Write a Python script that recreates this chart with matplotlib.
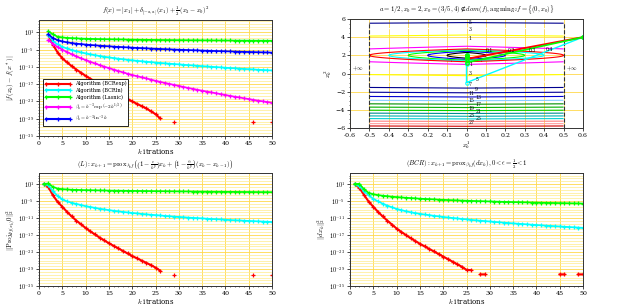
import numpy as np
import matplotlib
matplotlib.use("Agg")
import matplotlib.pyplot as plt
from matplotlib.ticker import FixedLocator, FuncFormatter, MultipleLocator, NullFormatter

plt.rcParams['font.family'] = ['DejaVu Serif']
plt.rcParams['mathtext.fontset'] = 'cm'
plt.rcParams['axes.linewidth'] = 0.7

nan = np.nan

# ---------------- data (log10 of plotted values) ----------------
k_tl = list(range(2, 51))
k_b = list(range(1, 51))

tl_bcrexp = [0.2, -3.3, -6.0, -8.0, -9.4, -10.7, -11.9, -13.0, -14.1, -15.1, -16.1, -17.1, -18.0,
             -18.9, -19.8, -20.6, -21.4, -22.2, -23.0, -23.8, -24.6, -25.4, -26.4, -27.4, -28.9,
             nan, nan, -30.1] + [nan] * 16 + [-30.1, nan, nan, nan, -30.1]
tl_bcrln = [0.0, -2.0, -3.2, -4.0, -4.6, -5.1, -5.55, -5.95, -6.3, -6.62, -6.92, -7.2, -7.45, -7.7,
            -7.92, -8.13, -8.33, -8.52, -8.7, -8.87, -9.03, -9.18, -9.33, -9.47, -9.61, -9.74, -9.87,
            -9.99, -10.11, -10.24, -10.36, -10.48, -10.6, -10.72, -10.83, -10.94, -11.05, -11.16,
            -11.27, -11.37, -11.47, -11.57, -11.67, -11.77, -11.87, -11.96, -12.05, -12.14, -12.23]
tl_lasnic = [1.4, 0.3, -0.5, -0.75, -0.9, -1.0, -1.08, -1.15, -1.2, -1.25, -1.29, -1.33, -1.36,
             -1.39, -1.42, -1.45, -1.47, -1.5, -1.52, -1.54, -1.56, -1.58, -1.6, -1.61, -1.63, -1.65,
             -1.66, -1.68, -1.69, -1.7, -1.72, -1.73, -1.74, -1.75, -1.77, -1.78, -1.79, -1.8, -1.81,
             -1.82, -1.83, -1.84, -1.85, -1.86, -1.87, -1.88, -1.88, -1.89, -1.9]
tl_beta_exp = [-1.7, -3.0, -4.1, -5.0, -5.8, -6.6, -7.35, -8.0, -8.6, -9.2, -9.8, -10.35, -10.9,
               -11.4, -11.9, -12.4, -12.9, -13.35, -13.8, -14.2, -14.6, -15.0, -15.4, -15.8, -16.2,
               -16.55, -16.9, -17.25, -17.6, -17.95, -18.3, -18.6, -18.95, -19.25, -19.55, -19.85,
               -20.15, -20.45, -20.75, -21.05, -21.35, -21.6, -21.9, -22.15, -22.45, -22.7, -22.95,
               -23.2, -23.45]
tl_beta_ln = [0.3, -1.0, -1.7, -2.15, -2.45, -2.7, -2.9, -3.07, -3.22, -3.36, -3.49, -3.61, -3.72,
              -3.83, -3.93, -4.03, -4.12, -4.21, -4.3, -4.38, -4.46, -4.54, -4.61, -4.68, -4.75,
              -4.82, -4.89, -4.95, -5.01, -5.07, -5.13, -5.19, -5.25, -5.3, -5.36, -5.41, -5.46,
              -5.51, -5.56, -5.61, -5.66, -5.71, -5.75, -5.8, -5.84, -5.89, -5.93, -5.97, -6.01]

bl_bcrexp = [1.0, 0.0, -3.0, -5.3, -7.0, -8.8, -10.4, -11.9, -13.2, -14.5, -15.7, -16.8, -17.9,
             -18.9, -19.9, -20.8, -21.7, -22.6, -23.5, -24.4, -25.2, -26.0, -26.8, -27.6, -28.5,
             -29.6, nan, nan, -31.0] + [nan] * 16 + [-31.0, nan, nan, nan, -31.0]
bl_bcrln = [1.0, 0.6, -1.5, -3.2, -4.4, -5.1, -5.6, -6.0, -6.4, -6.8, -7.1, -7.4, -7.7, -7.95, -8.2,
            -8.42, -8.63, -8.83, -9.02, -9.2, -9.37, -9.53, -9.68, -9.83, -9.97, -10.1, -10.23,
            -10.36, -10.48, -10.6, -10.71, -10.82, -10.93, -11.03, -11.13, -11.23, -11.33, -11.42,
            -11.51, -11.6, -11.69, -11.77, -11.85, -11.93, -12.01, -12.09, -12.17, -12.24, -12.31,
            -12.38]
bl_lasnic = [1.0, 1.2, 0.0, -0.6, -0.8, -0.9, -1.0, -1.05, -1.1, -1.15, -1.18, -1.21, -1.24, -1.27,
             -1.3, -1.32, -1.34, -1.36, -1.38, -1.4, -1.42, -1.44, -1.46, -1.48, -1.5, -1.52, -1.54,
             -1.56, -1.57, -1.59, -1.61, -1.62, -1.64, -1.65, -1.67, -1.68, -1.7, -1.71, -1.72,
             -1.74, -1.75, -1.76, -1.78, -1.79, -1.8, -1.81, -1.83, -1.84, -1.85, -1.86]

br_bcrexp = [1.0, -0.3, -2.8, -5.2, -7.0, -8.8, -10.4, -11.9, -13.3, -14.7, -15.9, -17.0, -18.1,
             -19.1, -20.1, -21.0, -21.9, -22.8, -23.7, -24.6, -25.5, -26.4, -27.3, -28.2, -29.3,
             -29.4, nan, -30.9, -30.9] + [nan] * 15 + [-30.9, -30.9, nan, nan, -30.9, -30.9]
br_bcrln = [1.0, 0.3, -1.5, -3.0, -4.2, -5.1, -5.9, -6.6, -7.2, -7.8, -8.2, -8.6, -8.95, -9.25,
            -9.5, -9.75, -9.98, -10.2, -10.4, -10.6, -10.8, -10.98, -11.15, -11.32, -11.48, -11.64,
            -11.79, -11.94, -12.08, -12.22, -12.36, -12.49, -12.62, -12.75, -12.87, -12.99, -13.11,
            -13.23, -13.34, -13.45, -13.56, -13.67, -13.77, -13.87, -13.97, -14.07, -14.17, -14.27,
            -14.36, -14.45]
br_lasnic = [1.0, 1.1, -0.8, -2.1, -2.6, -2.9, -3.1, -3.3, -3.45, -3.6, -3.72, -3.84, -3.95, -4.05,
             -4.15, -4.24, -4.33, -4.41, -4.49, -4.56, -4.63, -4.7, -4.76, -4.82, -4.88, -4.94,
             -4.99, -5.04, -5.09, -5.14, -5.19, -5.23, -5.28, -5.32, -5.36, -5.4, -5.44, -5.48,
             -5.52, -5.55, -5.59, -5.62, -5.66, -5.69, -5.72, -5.75, -5.78, -5.81, -5.84, -5.87]

legend_labels = ["Algorithm (BCRexp)", "Algorithm (BCRln)", "Algorithm (Lasnic)",
                 r"$\beta_k = k^{-3}\exp\left(-2k^{1/3}\right)$", r"$\beta_k = k^{-3}\ln^{-3} k$"]
series_colors = ['#ff0000', '#00ffff', '#00ff00', '#ff00ff', '#0000ff']

# contour problem data
a_param = 0.5
x0_param = 2.0
contour_levels = [0.1, 0.2, 0.3, 0.4, 0.5, 1, 5, 9, 13, 17, 21, 25, 29, 33, 37, 41, 45, 49, 53, 57, 61]
contour_colors = ['#000000', '#0000ff', '#00ff00', '#00ffff', '#ff0000', '#ff00ff', '#ffff00',
                  '#ffffff', '#00008f', '#0000b0', '#0000d1', '#87cfff', '#008f00', '#00b000',
                  '#00d100', '#008f8f', '#00b0b0', '#00d1d1', '#ff8080', '#ffa0a0', '#d10000']
traj_bcrexp_x = [0.6, 0.0, 0.0, 0.0]
traj_bcrexp_y = [4.0, 1.6, 1.9, 2.0]
traj_bcrln_x = [0.6, 0.0, 0.0, 0.0, 0.0, 0.0]
traj_bcrln_y = [4.0, -1.0, 1.1, 1.6, 1.85, 2.0]
traj_lasnic_x = [0.6, 0.0, 0.0, 0.0, 0.0, 0.0]
traj_lasnic_y = [4.0, 1.2, 1.6, 1.8, 1.9, 2.0]
clabel_text = ["5", "3", "1", "0.1", "0.2", "0.3", "0.4", "1", "3", "5", "7", "9",
               "11", "13", "15", "17", "19", "21", "23", "25", "27"]
clabel_x = [0.01, 0.01, 0.01, 0.1, 0.21, 0.32, 0.41, 0.015, 0.01, 0.045, 0.01, 0.045,
            0.01, 0.045, 0.01, 0.045, 0.01, 0.045, 0.01, 0.045, 0.01]
clabel_y = [5.6, 4.85, 3.9, 2.55, 2.55, 2.5, 2.6, 0.95, 0.0, -0.7, -1.2, -1.75,
            -2.2, -2.6, -3.0, -3.4, -3.8, -4.2, -4.6, -5.0, -5.4]

titles = [r"$f(x) = |x_1| + \delta_{[-a,a]}(x_1) + \frac{1}{2}\,(x_2 - x_0)^2$",
          r"$a = 1/2, x_0 = 2, x_0 = (3/5, 4) \notin dom(f), \mathrm{argmin}_{\mathbb{R}^2} f = \{(0, x_0)\}$",
          r"$(L): x_{k+1} = \mathrm{prox}_{\lambda_k f}\left(\left(1-\frac{c}{k^p}\right)x_k + \left(1-\frac{\alpha}{k^p}\right)(x_k - x_{k-1})\right)$",
          r"$(BCR): x_{k+1} = \mathrm{prox}_{\beta_k f}(dx_k), 0 < \epsilon = \frac{1}{2} < 1$"]
ylabels = [r"$|f(x_k) - f(x^*)|$", r"$x_k^2$", r"$\|\mathrm{Proj}_{\partial f(x_k)} 0\|_2^2$",
           r"$\|dx_k\|_2^2$"]
xlabel_tr = r"$x_k^1$"
xlabel_k = r"$k$ itrations"

# ---------------- figure ----------------
fig = plt.figure(figsize=(6.22, 3.07), dpi=100)
W, H = 622, 307


def add_ax(x0, y0, x1, y1):
    return fig.add_axes([x0 / W, 1 - y1 / H, (x1 - x0) / W, (y1 - y0) / H])


ax_tl = add_ax(39, 20, 272, 136)
ax_tr = add_ax(350, 19, 583, 128)
ax_bl = add_ax(39, 173, 272, 286)
ax_br = add_ax(350, 173, 583, 286)

GRID_MAJ = '#ffd84a'
GRID_MIN = '#ffeb8c'
FS = 4.5


def style_log(ax, top):
    ax.set_yscale('log')
    ax.set_xlim(0, 50)
    ax.set_ylim(1e-35, 10 ** top)
    ax.yaxis.set_major_locator(FixedLocator([10.0 ** e for e in range(1, -36, -6)]))
    ax.yaxis.set_major_formatter(FuncFormatter(lambda v, p: r"$10^{%d}$" % round(np.log10(v))))
    ax.yaxis.set_minor_locator(FixedLocator([10.0 ** e for e in range(5, -36, -1)]))
    ax.yaxis.set_minor_formatter(NullFormatter())
    ax.xaxis.set_major_locator(MultipleLocator(5))
    ax.xaxis.set_minor_locator(MultipleLocator(1))
    ax.grid(True, which='major', color=GRID_MAJ, lw=0.6)
    ax.grid(True, which='minor', axis='y', color=GRID_MIN, lw=0.5)
    ax.set_axisbelow(True)
    ax.tick_params(labelsize=FS, length=2, width=0.5, pad=1.5)
    ax.tick_params(which='minor', length=1, width=0.4)
    ax.set_xlabel(xlabel_k, fontsize=5, labelpad=1)


def plot_series(ax, k, vals, color, label=None, lw=1.2):
    v = 10.0 ** np.array(vals, dtype=float)
    ax.plot(k, v, color=color, lw=lw, marker='+', ms=3.5, mew=0.9, label=label)


style_log(ax_tl, 5.3)
plot_series(ax_tl, k_tl, tl_bcrexp, series_colors[0], legend_labels[0], lw=1.5)
plot_series(ax_tl, k_tl, tl_bcrln, series_colors[1], legend_labels[1])
plot_series(ax_tl, k_tl, tl_lasnic, series_colors[2], legend_labels[2])
plot_series(ax_tl, k_tl, tl_beta_exp, series_colors[3], legend_labels[3])
plot_series(ax_tl, k_tl, tl_beta_ln, series_colors[4], legend_labels[4])
leg = ax_tl.legend(loc='lower left', bbox_to_anchor=(0.006, 0.065), fontsize=3.6, frameon=True,
                   fancybox=False, edgecolor='black', framealpha=1, handlelength=5.4,
                   numpoints=3, borderpad=0.35, labelspacing=0.3, handletextpad=0.6)
leg.get_frame().set_linewidth(0.6)
for ln in leg.get_lines():
    ln.set_linewidth(1.5)

style_log(ax_bl, 4.9)
plot_series(ax_bl, k_b, bl_bcrexp, series_colors[0], lw=1.5)
plot_series(ax_bl, k_b, bl_bcrln, series_colors[1])
plot_series(ax_bl, k_b, bl_lasnic, series_colors[2])

style_log(ax_br, 4.9)
plot_series(ax_br, k_b, br_bcrexp, series_colors[0], lw=1.5)
plot_series(ax_br, k_b, br_bcrln, series_colors[1])
plot_series(ax_br, k_b, br_lasnic, series_colors[2])

# contour panel
x1g = np.linspace(-a_param, a_param, 401)
x2g = np.linspace(-6, 6, 801)
X1, X2 = np.meshgrid(x1g, x2g)
F = np.abs(X1) + (X2 - x0_param) ** 2
ax_tr.set_xlim(-0.6, 0.6)
ax_tr.set_ylim(-6, 6)
ax_tr.xaxis.set_major_locator(MultipleLocator(0.1))
ax_tr.yaxis.set_major_locator(MultipleLocator(2))
ax_tr.yaxis.set_minor_locator(MultipleLocator(0.5))
ax_tr.xaxis.set_major_formatter(FuncFormatter(lambda v, p: ("%.1f" % v) if abs(v) > 1e-9 else "0"))
ax_tr.grid(True, which='major', color=GRID_MAJ, lw=0.6)
ax_tr.set_axisbelow(True)
ax_tr.tick_params(labelsize=FS, length=2, width=0.5, pad=1.5)
ax_tr.tick_params(which='minor', length=1, width=0.4)
ax_tr.contour(X1, X2, F, levels=contour_levels, colors=contour_colors, linewidths=0.8)
ax_tr.plot([-a_param, -a_param], [-6, 5.7], color='#333333', ls='--', lw=0.8)
ax_tr.plot([a_param, a_param], [-6, 5.7], color='#333333', ls='--', lw=0.8)
ax_tr.text(-0.59, 0.3, r"$+\infty$", fontsize=4)
ax_tr.text(0.515, 0.3, r"$+\infty$", fontsize=4)
for s, xx, yy in zip(clabel_text, clabel_x, clabel_y):
    ax_tr.text(xx, yy, s, fontsize=3.3, ha='left', va='center')
ax_tr.plot(traj_bcrln_x, traj_bcrln_y, color='#00ffff', lw=1.0, marker='o', ms=2.5,
           mfc='none', mew=0.8)
ax_tr.plot(traj_bcrexp_x, traj_bcrexp_y, color='#ff0000', lw=1.4)
ax_tr.plot(traj_lasnic_x, traj_lasnic_y, color='#00ff00', lw=1.2, marker='o', ms=2.5,
           mfc='none', mew=0.9)
ax_tr.set_xlabel(xlabel_tr, fontsize=5, labelpad=1)

axes = [ax_tl, ax_tr, ax_bl, ax_br]
for ax, t, yl in zip(axes, titles, ylabels):
    ax.set_title(t, fontsize=4.8, pad=5)
    ax.set_ylabel(yl, fontsize=5, labelpad=1)
    for sp in ax.spines.values():
        sp.set_color('#333333')

fig.savefig("out.png", dpi=100)
